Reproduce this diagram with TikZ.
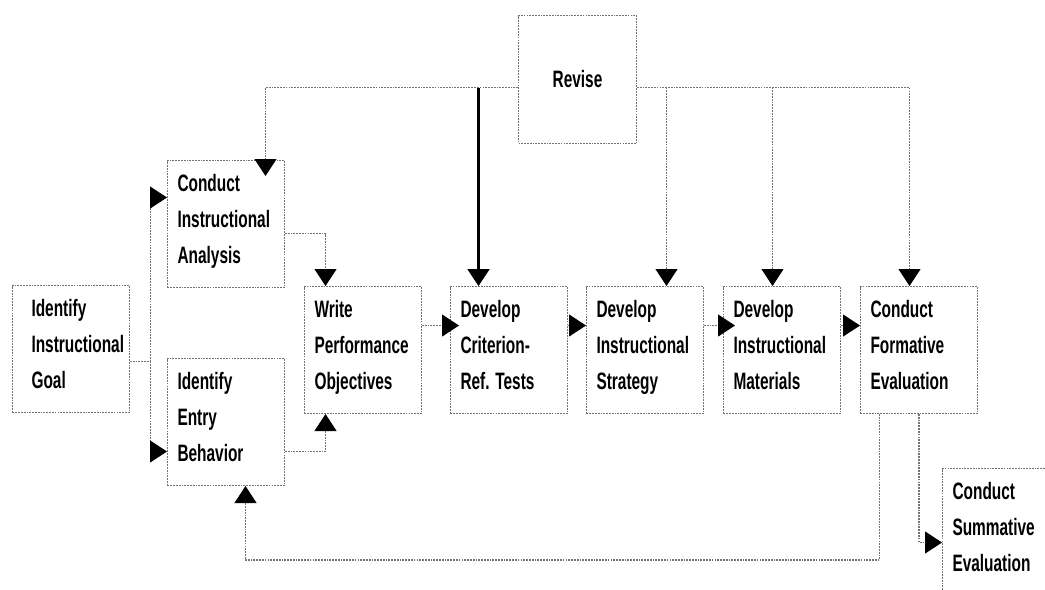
\documentclass[tikz,border=0pt]{standalone}
\usepackage{fontspec}
\setmainfont{Liberation Sans}[FakeStretch=0.65]
\usetikzlibrary{arrows.meta}

\begin{document}
\begin{tikzpicture}[x=0.02cm, y=-0.02cm,
    stage/.style={draw=black!55, line width=0.6pt, dash pattern=on 1pt off 0.6pt, anchor=north west,
        minimum width=2.34cm, minimum height=2.54cm, text width=1.94cm, inner xsep=0.2cm, inner ysep=0pt,
        align=flush left, font=\fontsize{13.5pt}{20.5pt}\selectfont\bfseries},
    link/.style={draw=black!55, line width=0.6pt, dash pattern=on 1pt off 0.6pt},
    tri/.tip={Triangle[length=0.34cm, width=0.44cm, color=black]}]
            \path[use as bounding box, clip] (0,0) rectangle (1045,589);
            \node[stage, align=center, minimum height=2.56cm, text width=1.96cm] (revise) at (518,15) {Revise};
            \node[stage, inner xsep=0.1cm, text width=2.14cm] (goal) at (12,285)
                {\hspace*{0.28cm}Identify\\\hspace*{0.28cm}Instructional\\\hspace*{0.28cm}Goal\strut};
            \node[stage] (analysis) at (167,160) {Conduct\\Instructional\\Analysis\strut};
            \node[stage] (entry) at (167,358) {Identify\\Entry\\Behavior\strut};
            \node[stage] (write) at (304,286) {Write\\Performance\\Objectives\strut};
            \node[stage] (criterion) at (450,286) {Develop\\Criterion-\\Ref. Tests\strut};
            \node[stage] (strategy) at (586,286) {Develop\\Instructional\\Strategy\strut};
            \node[stage] (materials) at (723,286) {Develop\\Instructional\\Materials\strut};
            \node[stage] (formative) at (860,286) {Conduct\\Formative\\Evaluation\strut};
            \node[stage] (summative) at (942,468) {Conduct\\Summative\\Evaluation\strut};

            \coordinate (revL) at ([yshift=-0.16cm]revise.west);
            \coordinate (revR) at ([yshift=-0.16cm]revise.east);
            \coordinate (anaIn) at ([xshift=0.79cm]analysis.north);
            \coordinate (criIn) at ([xshift=-0.61cm]criterion.north);
            \coordinate (strIn) at ([xshift=0.43cm]strategy.north);
            \coordinate (matIn) at ([xshift=-0.19cm]materials.north);
            \coordinate (forIn) at ([xshift=-0.19cm]formative.north);

            \draw[link, -tri, shorten >=-0.32cm] (revL) -| (anaIn);
            \draw[line width=1.2pt, -tri] (criIn |- revL) -- (criIn);
            \draw[link, -tri] (revR) -| (forIn);
            \draw[link, -tri] (strIn |- revR) -- (strIn);
            \draw[link, -tri] (matIn |- revR) -- (matIn);

            \draw[link] ([yshift=-0.25cm]goal.east) -- ++(0.4cm,0) coordinate (split);
            \draw[link, -tri] (split) |- ([yshift=0.53cm]analysis.west);
            \draw[link, -tri] (split) |- ([yshift=-0.59cm]entry.west);
            \draw[link, -tri] ([yshift=-0.19cm]analysis.east) -| ([xshift=-0.75cm]write.north);
            \draw[link, -tri] ([yshift=-0.59cm]entry.east) -| ([xshift=-0.75cm]write.south);

            \draw[link, -tri, shorten >=-0.18cm] ([yshift=0.49cm]write.east) -- ([yshift=0.49cm]criterion.west);
            \draw[link, -tri] ([yshift=0.49cm]criterion.east) -- ([yshift=0.49cm]strategy.west);
            \draw[link, -tri, shorten >=-0.24cm] ([yshift=0.49cm]strategy.east) -- ([yshift=0.49cm]materials.west);
            \draw[link, -tri] ([yshift=0.49cm]materials.east) -- ([yshift=0.49cm]formative.west);

            \draw[link, -tri] ([xshift=-0.79cm]formative.south) -- ++(0,-2.92cm) -| ([xshift=0.39cm]entry.south);
            \draw[link, -tri] (formative.south) |- ([yshift=-0.21cm]summative.west);
        \end{tikzpicture}
\end{document}
